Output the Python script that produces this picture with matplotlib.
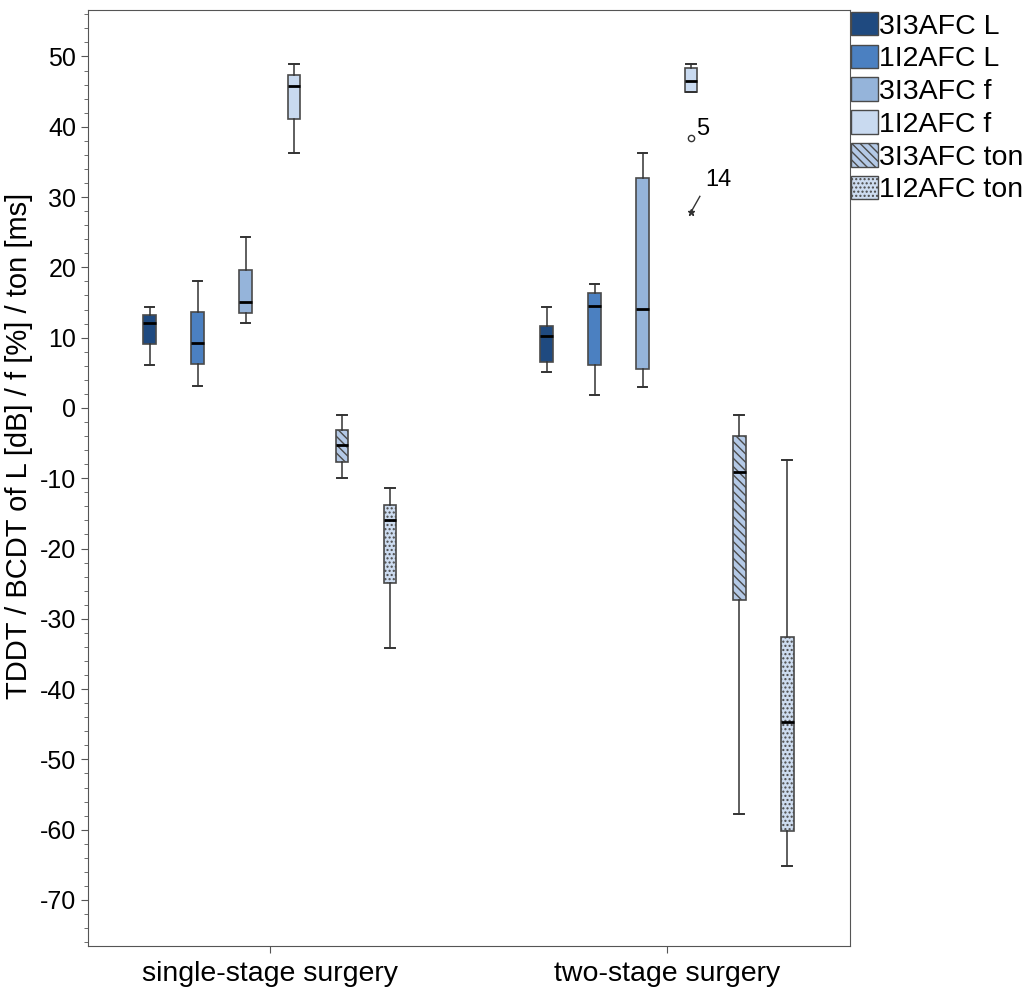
import matplotlib
matplotlib.use('Agg')
import matplotlib.pyplot as plt
from matplotlib.patches import Patch

plt.rcParams['font.family'] = ['Liberation Sans', 'DejaVu Sans']
plt.rcParams['hatch.linewidth'] = 1.0
plt.rcParams['axes.unicode_minus'] = False

groups = ['single-stage surgery', 'two-stage surgery']
series = ['3I3AFC L', '1I2AFC L', '3I3AFC f', '1I2AFC f', '3I3AFC ton', '1I2AFC ton']
colors = ['#1f4a80', '#4b80c1', '#95b4da', '#c9daf0', '#b4c9e6', '#cddcf0']
hatches = [None, None, None, None, '\\\\\\\\', '....']

# five-number summaries per group: [low whisker, Q1, median, Q3, high whisker]
single_stage = [
    [6.1, 9.1, 12.1, 13.2, 14.3],
    [3.1, 6.2, 9.2, 13.6, 18.0],
    [12.1, 13.5, 15.1, 19.6, 24.3],
    [36.3, 41.1, 45.8, 47.4, 49.0],
    [-10.0, -7.7, -5.3, -3.2, -1.0],
    [-34.1, -24.9, -16.0, -13.8, -11.4],
]
two_stage = [
    [5.1, 6.5, 10.3, 11.6, 14.3],
    [1.8, 6.1, 14.5, 16.3, 17.7],
    [3.0, 5.6, 14.1, 32.7, 36.2],
    [45.0, 45.0, 46.5, 48.3, 48.9],
    [-57.8, -27.3, -9.1, -4.0, -1.0],
    [-65.2, -60.2, -44.7, -32.6, -7.4],
]
# outliers (two-stage, 1I2AFC f)
outlier_circle = (38.4, '5')
outlier_star = (27.9, '14')

fig = plt.figure(figsize=(10.30, 9.89), dpi=100)
ax = fig.add_axes([0.0854, 0.0438, 0.7398, 0.946])

offsets = [-0.303, -0.182, -0.061, 0.061, 0.182, 0.303]
width = 0.032
data = [single_stage, two_stage]
for g in range(2):
    for i in range(6):
        lo, q1, med, q3, hi = data[g][i]
        st = dict(whislo=lo, q1=q1, med=med, q3=q3, whishi=hi, fliers=[])
        res = ax.bxp([st], positions=[g + offsets[i]], widths=width,
                     capwidths=width * 0.75, patch_artist=True,
                     showfliers=False,
                     boxprops=dict(facecolor=colors[i], edgecolor='#4a4a4a', linewidth=1.2),
                     whiskerprops=dict(color='#333333', linewidth=1.1),
                     capprops=dict(color='#333333', linewidth=1.4),
                     medianprops=dict(color='black', linewidth=2))
        if hatches[i]:
            res['boxes'][0].set_hatch(hatches[i])

# outlier markers
xo = 1 + offsets[3]
ax.plot([xo], [outlier_circle[0]], marker='o', ms=4.5, mfc='white', mec='#333333', mew=1)
ax.text(xo + 0.012, outlier_circle[0] - 0.3, outlier_circle[1], fontsize=17, va='bottom')
ax.plot([xo], [outlier_star[0]], marker='*', ms=5, color='#333333')
ax.plot([xo, xo + 0.022], [outlier_star[0], outlier_star[0] + 2.2], color='#333333', lw=1)
ax.text(xo + 0.036, outlier_star[0] + 2.9, outlier_star[1], fontsize=17, va='bottom')

ax.set_xlim(-0.458, 1.461)
ax.set_ylim(-76.5, 56.6)
ax.set_yticks(range(-70, 51, 10))
ax.set_yticks(range(-76, 57, 2), minor=True)
ax.set_xticks([0, 1])
ax.set_xticklabels(groups, fontsize=20.5)
ax.tick_params(axis='y', labelsize=18, length=5, color='#555555')
ax.tick_params(axis='y', which='minor', length=3, color='#555555')
ax.tick_params(axis='x', length=5, color='#555555', pad=6)
for s in ax.spines.values():
    s.set_color('#555555')
ax.set_ylabel('TDDT / BCDT of L [dB] / f [%] / ton [ms]', fontsize=21)
ax.yaxis.set_label_coords(-0.072, 0.534)

handles = [Patch(facecolor=colors[i], edgecolor='#4a4a4a', hatch=hatches[i], label=series[i])
           for i in range(6)]
fig.legend(handles=handles, loc='upper left', bbox_to_anchor=(0.826, 0.988),
           frameon=False, fontsize=20.5, handlelength=0.95, handleheight=0.9,
           handletextpad=0.05, labelspacing=0.18, borderaxespad=0.0, borderpad=0.0)

fig.savefig('out.png', dpi=100)
